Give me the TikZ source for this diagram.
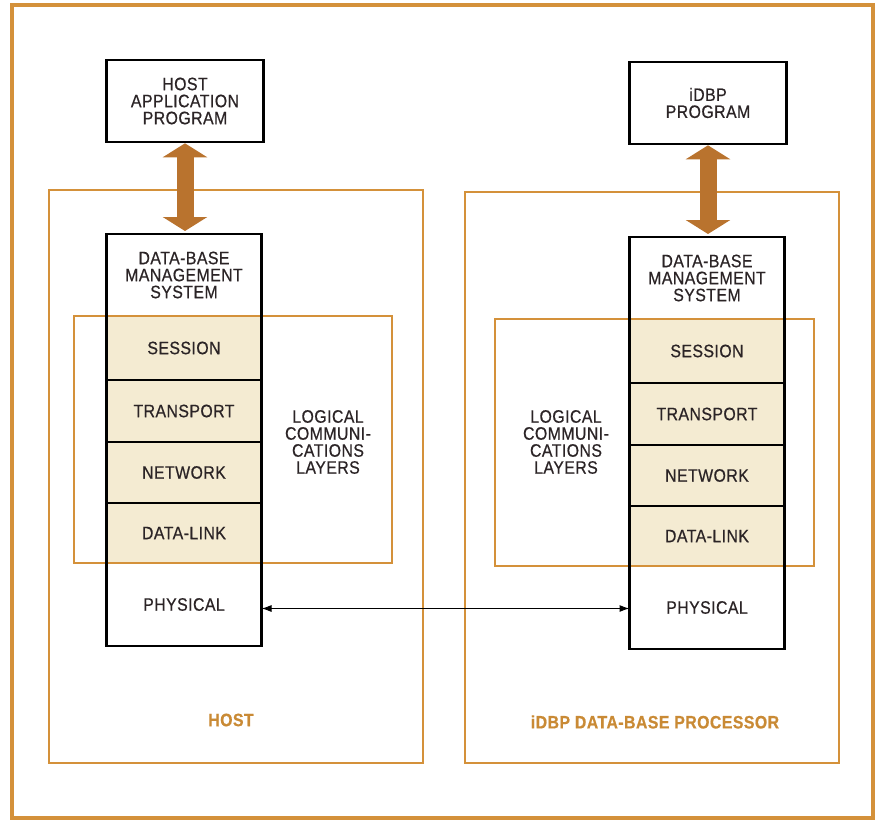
\documentclass[tikz,border=0pt]{standalone}
\usepackage{fontspec}
\setmainfont{Liberation Sans}
\newfontfamily\diagfont[FakeStretch=0.88, FakeBold=0.6, LetterSpace=2.5]{Liberation Sans}
\usepackage{tikz}
\usetikzlibrary{positioning, arrows.meta}
\definecolor{frameorange}{HTML}{D4913A}
\definecolor{arrowcopper}{HTML}{B9732E}
\definecolor{layerbeige}{HTML}{F4EBD2}
\definecolor{labeldark}{HTML}{2B2426}
\definecolor{hostorange}{HTML}{C98A35}
\tikzset{
	progbox/.style={
			draw=black,
			line width=2.6pt,
			fill=white,
			minimum width=157pt,
			minimum height=82pt,
			inner sep=0pt,
			align=center,
			text=labeldark,
			font=\diagfont\fontsize{18}{17}\selectfont
		},
	layernode/.style={
			draw=black,
			line width=1.2pt,
			fill=layerbeige,
			minimum width=155pt,
			anchor=north,
			inner sep=0pt,
			outer sep=0pt,
			align=center,
			text=labeldark,
			font=\diagfont\fontsize{18}{17}\selectfont
		},
	plainlayer/.style={
			layernode,
			fill=white
		},
	stackline/.style={
			draw=black,
			line width=2.8pt
		},
	hostframe/.style={
			draw=frameorange,
			line width=1.8pt
		},
	logicframe/.style={
			draw=frameorange,
			line width=1.6pt
		},
	outerframe/.style={
			draw=frameorange,
			line width=3.5pt
		},
	bigarrow/.style={
			draw=arrowcopper,
			line width=17pt,
			{Triangle[length=14pt,width=44pt]}-{Triangle[length=14pt,width=44pt]}
		},
	physarrow/.style={
			draw=black,
			line width=1pt,
			{Latex[length=10pt,width=7pt]}-{Latex[length=10pt,width=7pt]}
		}
}
\tikzset{
	logictext/.style={align=center, text=labeldark, font=\diagfont\fontsize{18}{17}\selectfont}
}
\tikzset{
	framelabel/.style={text=hostorange, font=\diagfont\fontsize{18}{17}\selectfont\bfseries}
}

\begin{document}
\begin{tikzpicture}[x=1pt, y=-1pt]
        \useasboundingbox (0,0) rectangle (876,822);
        \draw[outerframe] (12,5) rectangle (873,818);

        % host and data-base processor frames
        \draw[hostframe] (49,190) rectangle (423,763);
        \draw[hostframe] (465,192) rectangle (839,763);

        \node[progbox] at (185,101) (lapp) {HOST\\APPLICATION\\PROGRAM};
        \node[progbox] at (708,103) (rapp) {iDBP\\PROGRAM};

        % left stack
        \node[plainlayer, minimum height=82pt] at (184,234) (ldbms) {DATA-BASE\\MANAGEMENT\\SYSTEM};
        \node[layernode, minimum height=64pt, below=0pt of ldbms] (lsess) {SESSION};
        \node[layernode, minimum height=62pt, below=0pt of lsess] (ltrans) {TRANSPORT};
        \node[layernode, minimum height=61pt, below=0pt of ltrans] (lnet) {NETWORK};
        \node[layernode, minimum height=60pt, below=0pt of lnet] (llink) {DATA-LINK};
        \node[plainlayer, minimum height=83pt, below=0pt of llink] (lphys) {PHYSICAL};

        % right stack
        \node[plainlayer, minimum height=82pt] at (707,237) (rdbms) {DATA-BASE\\MANAGEMENT\\SYSTEM};
        \node[layernode, minimum height=64pt, below=0pt of rdbms] (rsess) {SESSION};
        \node[layernode, minimum height=62pt, below=0pt of rsess] (rtrans) {TRANSPORT};
        \node[layernode, minimum height=61pt, below=0pt of rtrans] (rnet) {NETWORK};
        \node[layernode, minimum height=60pt, below=0pt of rnet] (rlink) {DATA-LINK};
        \node[plainlayer, minimum height=83pt, below=0pt of rlink] (rphys) {PHYSICAL};

        \draw[logicframe] (74,316) rectangle (392,563);
        \draw[logicframe] (495,319) rectangle (814,566);

        \draw[stackline] (ldbms.north west) rectangle (lphys.south east);
        \draw[stackline] (rdbms.north west) rectangle (rphys.south east);

        \node[logictext] at (328,442) (llogic) {LOGICAL\\COMMUNI-\\CATIONS\\LAYERS};
        \node[logictext] at (566,442) (rlogic) {LOGICAL\\COMMUNI-\\CATIONS\\LAYERS};

        \node[framelabel] at (231,720) (hostlabel) {HOST};
        \node[framelabel] at (655,722) (dbplabel) {iDBP DATA-BASE PROCESSOR};

        \draw[bigarrow] (lapp.south) -- ([yshift=3pt]lapp.south |- ldbms.north);
        \draw[bigarrow] (rapp.south) -- ([yshift=3pt]rapp.south |- rdbms.north);

        \draw[physarrow] ([yshift=-4pt]lphys.east) -- ([yshift=-4pt]lphys.east -| rphys.west);
      \end{tikzpicture}
\end{document}
